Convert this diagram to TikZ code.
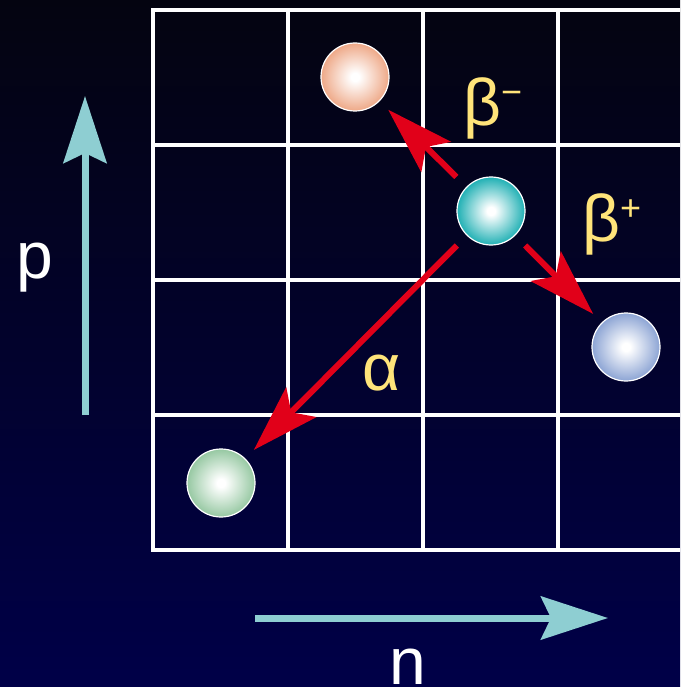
\documentclass[tikz,border=0pt]{standalone}
\usepackage{fontspec}
\setmainfont{Liberation Sans}
\usetikzlibrary{arrows.meta}
\definecolor{bgtop}{RGB}{4,4,16}
\definecolor{bgbot}{RGB}{0,0,72}
\definecolor{redarr}{RGB}{225,0,25}
\definecolor{tealax}{RGB}{142,206,210}
\definecolor{labyel}{RGB}{255,228,122}
\definecolor{cOrange}{RGB}{238,168,135}
\definecolor{cTeal}{RGB}{32,176,180}
\definecolor{cBlue}{RGB}{140,164,212}
\definecolor{cGreen}{RGB}{150,200,162}
\pgfdeclareradialshading{ballO}{\pgfpoint{0bp}{0bp}}{color(0bp)=(white); color(3bp)=(white); color(25bp)=(cOrange); color(50bp)=(cOrange)}
\pgfdeclareradialshading{ballT}{\pgfpoint{0bp}{0bp}}{color(0bp)=(white); color(3bp)=(white); color(25bp)=(cTeal); color(50bp)=(cTeal)}
\pgfdeclareradialshading{ballB}{\pgfpoint{0bp}{0bp}}{color(0bp)=(white); color(3bp)=(white); color(25bp)=(cBlue); color(50bp)=(cBlue)}
\pgfdeclareradialshading{ballG}{\pgfpoint{0bp}{0bp}}{color(0bp)=(white); color(3bp)=(white); color(25bp)=(cGreen); color(50bp)=(cGreen)}
\begin{document}
\begin{tikzpicture}[x=1pt,y=-1pt,
  ball/.style={circle, minimum size=68pt, inner sep=0pt, draw=white, line width=1.2pt, shade},
  gridline/.style={white, line width=4.6pt, line cap=rect},
  decay/.style={draw=redarr, line width=6pt, -{Stealth[length=67pt,width=42pt,inset=14pt]}, shorten <=14pt, shorten >=12pt},
  axisarrow/.style={draw=tealax, line width=7pt, -{Stealth[length=67pt,width=43pt,inset=10pt]}},
  lab/.style={text=labyel, font=\fontsize{66}{70}\selectfont, inner sep=0pt, anchor=base west},
  axlab/.style={text=white, font=\fontsize{66}{70}\selectfont, inner sep=0pt, anchor=base west}]
\useasboundingbox (0,0) rectangle (680,687);
\clip (0,0) rectangle (680,687);
\shade[top color=bgtop, bottom color=bgbot] (0,0) rectangle (680,687);
% grid
\foreach \x in {153,288,423,558} \draw[gridline] (\x,10) -- (\x,550);
\foreach \y in {10,145,280,415,550} \draw[gridline] (153,\y) -- (700,\y);
% nuclei
\node[ball, shading=ballO] (orange) at (355,77) {};
\node[ball, shading=ballT] (teal) at (491,211) {};
\node[ball, shading=ballB] (blue) at (626,347) {};
\node[ball, shading=ballG] (green) at (221,483) {};
% decays
\draw[decay] (teal) -- (orange);
\draw[decay] (teal) -- (blue);
\draw[decay] (teal) -- (green);
% labels
\node[lab] (bminus) at (463,126) {β\raisebox{21pt}{\fontsize{36}{36}\selectfont −}};
\node[lab] (bplus) at (582,241) {β\raisebox{21pt}{\fontsize{36}{36}\selectfont +}};
\node[lab] (alpha) at (362,390) {α};
% axes
\coordinate (pstart) at (85,415);
\coordinate (ptip) at (85,96);
\coordinate (nstart) at (255,618);
\coordinate (ntip) at (608,618);
\draw[axisarrow] (pstart) -- (ptip);
\draw[axisarrow] (nstart) -- (ntip);
\node[axlab] (plab) at (16,278) {p};
\node[axlab] (nlab) at (389,684) {n};
\end{tikzpicture}
\end{document}
